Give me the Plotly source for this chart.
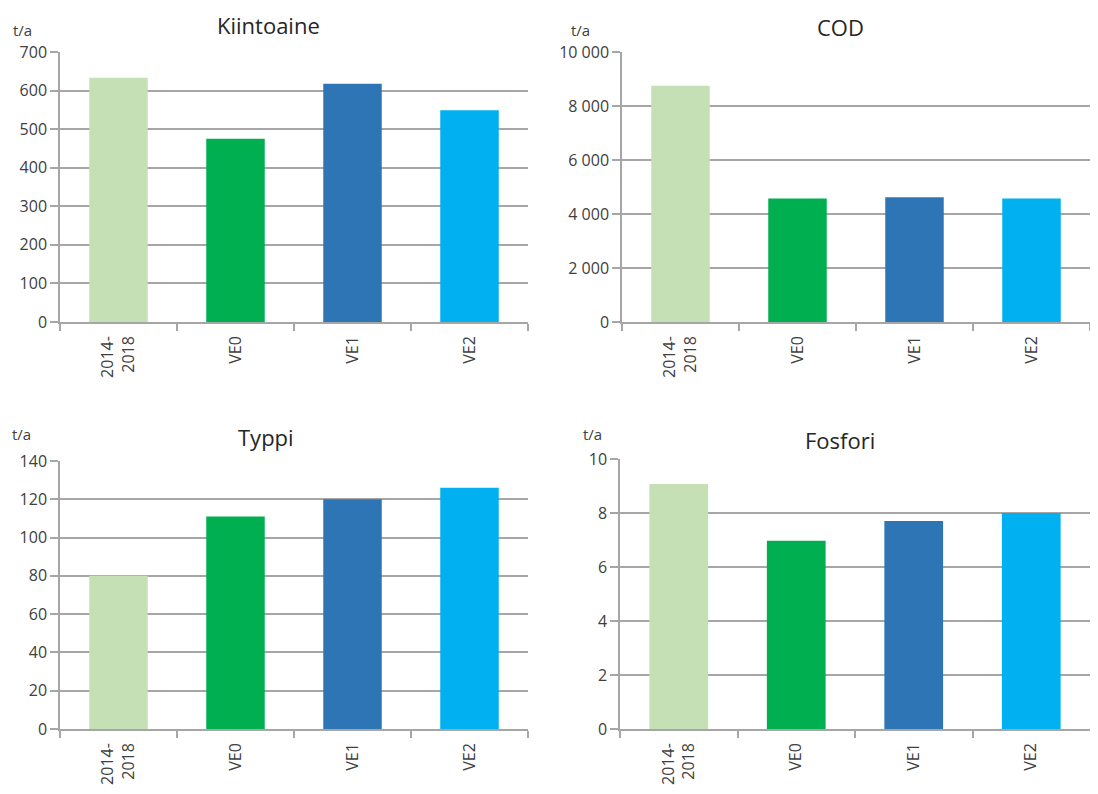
import plotly.graph_objects as go

categories = ["2014-<br>2018", "VE0", "VE1", "VE2"]
bar_colors = ["#C5E0B4", "#00B050", "#2E75B6", "#00B0F0"]

kiintoaine = [633, 475, 618, 549]
cod = [8750, 4570, 4620, 4570]
typpi = [80, 111, 120, 126]
fosfori = [9.07, 6.97, 7.7, 8.0]

titles = ["Kiintoaine", "COD", "Typpi", "Fosfori"]
unit = "t/a"

kiinto_ticks = [0, 100, 200, 300, 400, 500, 600, 700]
cod_ticks = [0, 2000, 4000, 6000, 8000, 10000]
cod_ticktext = ["0", "2 000", "4 000", "6 000", "8 000", "10 000"]
typpi_ticks = [0, 20, 40, 60, 80, 100, 120, 140]
fosfori_ticks = [0, 2, 4, 6, 8, 10]

# page body has an 8px margin; figure is sized to fill the remaining window
OFF = 8
W, H = 1090, 786
def px(x):
    return (x - OFF) / W
def py(y):
    return 1 - (y - OFF) / H

panels = [
    dict(vals=kiintoaine, ticks=kiinto_ticks, text=[str(v) for v in kiinto_ticks],
         x=(60, 528), y=(52, 322), title_xy=(268, 8), title_anchor="top", unit_xy=(22, 30)),
    dict(vals=cod, ticks=cod_ticks, text=cod_ticktext,
         x=(622, 1090), y=(52, 322), title_xy=(840, 27), title_anchor="middle", unit_xy=(580, 30)),
    dict(vals=typpi, ticks=typpi_ticks, text=[str(v) for v in typpi_ticks],
         x=(60, 528), y=(461, 729), title_xy=(266, 437), title_anchor="middle", unit_xy=(21, 434)),
    dict(vals=fosfori, ticks=fosfori_ticks, text=[str(v) for v in fosfori_ticks],
         x=(620, 1090), y=(459, 729), title_xy=(840, 440), title_anchor="middle", unit_xy=(592, 434)),
]

fig = go.Figure()
font_family = "Open Sans, Lato, sans-serif"
axis_col = "#A6A6A6"
text_col = "#404040"
annotations = []
layout = {}
for i, p in enumerate(panels):
    n = "" if i == 0 else str(i + 1)
    fig.add_trace(go.Bar(
        x=categories, y=p["vals"], marker=dict(color=bar_colors, line=dict(width=0)),
        xaxis="x" + n, yaxis="y" + n, showlegend=False, width=0.5,
    ))
    layout["xaxis" + n] = dict(
        domain=[px(p["x"][0]), px(p["x"][1])], anchor="y" + n,
        type="category", tickangle=-90, showgrid=False, automargin=False,
        showline=True, linecolor=axis_col, linewidth=1.5,
        ticks="outside", tickson="boundaries", ticklen=7, tickcolor=axis_col, tickwidth=1.5,
        ticklabelstandoff=6,
        tickfont=dict(size=16, color=text_col, family=font_family),
        range=[-0.5, 3.5],
    )
    layout["yaxis" + n] = dict(
        domain=[py(p["y"][1]), py(p["y"][0])], anchor="x" + n,
        range=[0, p["ticks"][-1]], tickvals=p["ticks"], ticktext=p["text"],
        showgrid=True, gridcolor=axis_col, gridwidth=1.5, automargin=False,
        showline=True, linecolor=axis_col, linewidth=1.5,
        ticks="outside", ticklen=8, tickcolor=axis_col, tickwidth=1.5,
        tickfont=dict(size=16, color=text_col, family=font_family),
        zeroline=False,
    )
    annotations.append(dict(
        text=titles[i], x=px(p["title_xy"][0]), y=py(p["title_xy"][1]),
        xref="paper", yref="paper", showarrow=False, xanchor="center",
        yanchor=p["title_anchor"],
        font=dict(size=22, color="#262626", family=font_family),
    ))
    annotations.append(dict(
        text=unit, x=px(p["unit_xy"][0]), y=py(p["unit_xy"][1]),
        xref="paper", yref="paper", showarrow=False, xanchor="center", yanchor="middle",
        font=dict(size=15, color=text_col, family=font_family),
    ))

fig.update_layout(
    width=W, height=H, margin=dict(l=0, r=0, t=0, b=0),
    paper_bgcolor="white", plot_bgcolor="white",
    annotations=annotations, **layout,
)
fig.write_html("out.html")
